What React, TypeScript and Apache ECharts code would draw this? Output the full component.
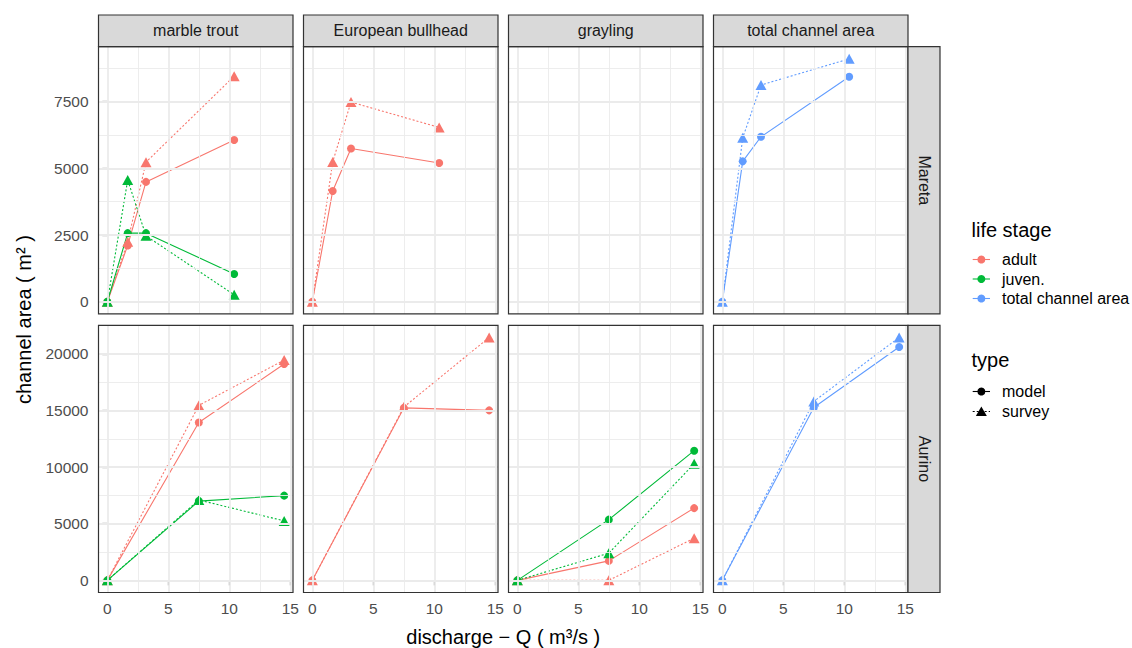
import React, { useEffect, useRef } from "react";
import * as echarts from "echarts";

// ---------- data ----------
const facets = ["marble trout", "European bullhead", "grayling", "total channel area"];
const rivers = ["Mareta", "Aurino"];
const lifeStages = ["adult", "juven.", "total channel area"];
const stageColors = ["#F8766D", "#00BA38", "#619CFF"];
const types = ["model", "survey"];

// discharge (m3/s)
const maretaQ = [0, 1.67, 3.17, 10.4];
const aurinoQ = [0, 7.5, 14.5];

// Mareta channel area (m2)
const maretaTroutAdultModel = [0, 2110, 4490, 6060];
const maretaTroutAdultSurvey = [0, 2250, 5230, 8450];
const maretaTroutJuvModel = [0, 2570, 2570, 1040];
const maretaTroutJuvSurvey = [0, 4560, 2470, 260];
const maretaBullheadAdultModel = [0, 4150, 5740, 5200];
const maretaBullheadAdultSurvey = [0, 5240, 7480, 6530];
const maretaTotalModel = [0, 5260, 6180, 8430];
const maretaTotalSurvey = [0, 6140, 8120, 9100];

// Aurino channel area (m2)
const aurinoTroutAdultModel = [0, 13940, 19100];
const aurinoTroutAdultSurvey = [0, 15450, 19450];
const aurinoTroutJuvModel = [0, 7000, 7480];
const aurinoTroutJuvSurvey = [0, 7100, 5250];
const aurinoBullheadAdultModel = [0, 15230, 15010];
const aurinoBullheadAdultSurvey = [0, 15300, 21450];
const aurinoGraylingAdultModel = [0, 1720, 6380];
const aurinoGraylingAdultSurvey = [0, 0, 3720];
const aurinoGraylingJuvModel = [0, 5360, 11450];
const aurinoGraylingJuvSurvey = [0, 2400, 10300];
const aurinoTotalModel = [0, 15270, 20600];
const aurinoTotalSurvey = [0, 15800, 21450];

// tick values
const xTicks = [0, 5, 10, 15];
const xMinor = [2.5, 7.5, 12.5];
const yTicksTop = [0, 2500, 5000, 7500];
const yMinorTop = [1250, 3750, 6250, 8750];
const yTicksBottom = [0, 5000, 10000, 15000, 20000];
const yMinorBottom = [2500, 7500, 12500, 17500];

// records: river index, facet index, stage index, type index, x, y
const records = [
  [0, 0, 0, 0, maretaQ, maretaTroutAdultModel],
  [0, 0, 0, 1, maretaQ, maretaTroutAdultSurvey],
  [0, 0, 1, 0, maretaQ, maretaTroutJuvModel],
  [0, 0, 1, 1, maretaQ, maretaTroutJuvSurvey],
  [0, 1, 0, 0, maretaQ, maretaBullheadAdultModel],
  [0, 1, 0, 1, maretaQ, maretaBullheadAdultSurvey],
  [0, 3, 2, 0, maretaQ, maretaTotalModel],
  [0, 3, 2, 1, maretaQ, maretaTotalSurvey],
  [1, 0, 0, 0, aurinoQ, aurinoTroutAdultModel],
  [1, 0, 0, 1, aurinoQ, aurinoTroutAdultSurvey],
  [1, 0, 1, 0, aurinoQ, aurinoTroutJuvModel],
  [1, 0, 1, 1, aurinoQ, aurinoTroutJuvSurvey],
  [1, 1, 0, 0, aurinoQ, aurinoBullheadAdultModel],
  [1, 1, 0, 1, aurinoQ, aurinoBullheadAdultSurvey],
  [1, 2, 0, 0, aurinoQ, aurinoGraylingAdultModel],
  [1, 2, 0, 1, aurinoQ, aurinoGraylingAdultSurvey],
  [1, 2, 1, 0, aurinoQ, aurinoGraylingJuvModel],
  [1, 2, 1, 1, aurinoQ, aurinoGraylingJuvSurvey],
  [1, 3, 2, 0, aurinoQ, aurinoTotalModel],
  [1, 3, 2, 1, aurinoQ, aurinoTotalSurvey],
] as any[];

// ---------- layout ----------
const FONT = "'Liberation Sans', Arial, Helvetica, sans-serif";
const PANEL_LEFT = [98.5, 303.5, 508.5, 713.5];
const PANEL_W = 194.5;
const PANEL_TOP = [46.7, 325.3];
const PANEL_H = 267.2;
const STRIP_TOP = 15;
const STRIP_RIGHT_W = 32;
const GRID_COLOR = "#EBEBEB";
const BORDER = "#333333";
const TICK_FS = 15.5;
const SMALL_FS = 16;
const TITLE_FS = 20;

function buildOption() {
  const allX = ([] as number[]).concat(maretaQ, aurinoQ);
  const xMax = Math.max(...allX);
  const xMin = Math.min(...allX);
  const xSpan = xMax - xMin;
  const xRange = [xMin - 0.05 * xSpan, xMax + 0.05 * xSpan];
  const rowMax = [0, 1].map((r) =>
    Math.max(...records.filter((d) => d[0] === r).flatMap((d) => d[5] as number[]))
  );
  const yRanges = rowMax.map((m) => [-0.05 * m, 1.05 * m]);
  const yTicks = [yTicksTop, yTicksBottom];
  const yMinor = [yMinorTop, yMinorBottom];

  const grids: any[] = [];
  const xAxes: any[] = [];
  const yAxes: any[] = [];
  const series: any[] = [];
  const graphics: any[] = [];

  const fmt = (v: number) => String(v);

  for (let r = 0; r < 2; r++) {
    for (let c = 0; c < 4; c++) {
      const p = r * 4 + c;
      grids.push({
        left: PANEL_LEFT[c],
        top: PANEL_TOP[r],
        width: PANEL_W,
        height: PANEL_H,
        show: true,
        backgroundColor: "#FFFFFF",
        borderWidth: 0,
        containLabel: false,
      });
      xAxes.push({
        type: "value",
        gridIndex: p,
        min: xRange[0],
        max: xRange[1],
        axisLine: { show: false },
        splitLine: { show: false },
        axisTick: {
          show: r === 1,
          customValues: xTicks,
          length: 5,
          lineStyle: { color: BORDER, width: 1.2 },
        },
        axisLabel: {
          show: r === 1,
          customValues: xTicks,
          formatter: fmt,
          color: "#4D4D4D",
          fontSize: TICK_FS,
          fontFamily: FONT,
          margin: 8,
        },
      });
      yAxes.push({
        type: "value",
        gridIndex: p,
        min: yRanges[r][0],
        max: yRanges[r][1],
        axisLine: { show: false },
        splitLine: { show: false },
        axisTick: {
          show: c === 0,
          customValues: yTicks[r],
          length: 5,
          lineStyle: { color: BORDER, width: 1.2 },
        },
        axisLabel: {
          show: c === 0,
          customValues: yTicks[r],
          formatter: fmt,
          color: "#4D4D4D",
          fontSize: TICK_FS,
          fontFamily: FONT,
          margin: 10,
        },
      });
      // grid lines through markLine on a helper series
      const ml: any[] = [];
      xMinor.forEach((v) => ml.push({ xAxis: v, lineStyle: { width: 0.9, color: GRID_COLOR, type: "solid" } }));
      yMinor[r].forEach((v) => ml.push({ yAxis: v, lineStyle: { width: 0.9, color: GRID_COLOR, type: "solid" } }));
      xTicks.forEach((v) => ml.push({ xAxis: v, lineStyle: { width: 1.8, color: GRID_COLOR, type: "solid" } }));
      yTicks[r].forEach((v) => ml.push({ yAxis: v, lineStyle: { width: 1.8, color: GRID_COLOR, type: "solid" } }));
      series.push({
        type: "line",
        name: "grid" + p,
        xAxisIndex: p,
        yAxisIndex: p,
        data: [],
        silent: true,
        z: 1,
        markLine: {
          silent: true,
          animation: false,
          symbol: ["none", "none"],
          label: { show: false },
          emphasis: { disabled: true },
          data: ml,
        },
      });

      // panel border
      graphics.push({
        type: "rect",
        z: 100,
        silent: true,
        shape: { x: PANEL_LEFT[c], y: PANEL_TOP[r], width: PANEL_W, height: PANEL_H },
        style: { fill: "none", stroke: BORDER, lineWidth: 1.2 },
      });
    }
  }

  // data series
  records.forEach((d) => {
    const [r, c, s, t, xs, ys] = d;
    const p = r * 4 + c;
    series.push({
      type: "line",
      name: `${rivers[r]} ${facets[c]} ${lifeStages[s]} ${types[t]}`,
      xAxisIndex: p,
      yAxisIndex: p,
      data: (xs as number[]).map((x, i) => [x, ys[i]]),
      symbol: t === 0 ? "circle" : "triangle",
      symbolSize: t === 0 ? 8 : [11, 10],
      showSymbol: true,
      showAllSymbol: true,
      itemStyle: { color: stageColors[s] },
      lineStyle: { color: stageColors[s], width: 1.1, type: t === 0 ? "solid" : [2, 2] },
      z: 3,
      silent: true,
      emphasis: { disabled: true },
    });
  });

  // top strips
  facets.forEach((f, c) => {
    graphics.push({
      type: "rect",
      z: 101,
      silent: true,
      shape: { x: PANEL_LEFT[c], y: STRIP_TOP, width: PANEL_W, height: PANEL_TOP[0] - STRIP_TOP },
      style: { fill: "#D9D9D9", stroke: BORDER, lineWidth: 1.2 },
    });
    graphics.push({
      type: "text",
      z: 102,
      silent: true,
      x: PANEL_LEFT[c] + PANEL_W / 2,
      y: (STRIP_TOP + PANEL_TOP[0]) / 2,
      style: {
        text: f,
        fontSize: SMALL_FS,
        fontFamily: FONT,
        fill: "#1A1A1A",
        align: "center",
        verticalAlign: "middle",
      },
    });
  });
  // right strips
  const stripX = PANEL_LEFT[3] + PANEL_W;
  rivers.forEach((rv, r) => {
    graphics.push({
      type: "rect",
      z: 101,
      silent: true,
      shape: { x: stripX, y: PANEL_TOP[r], width: STRIP_RIGHT_W, height: PANEL_H },
      style: { fill: "#D9D9D9", stroke: BORDER, lineWidth: 1.2 },
    });
    graphics.push({
      type: "text",
      z: 102,
      silent: true,
      x: stripX + STRIP_RIGHT_W / 2,
      y: PANEL_TOP[r] + PANEL_H / 2,
      rotation: -Math.PI / 2,
      style: {
        text: rv,
        fontSize: SMALL_FS,
        fontFamily: FONT,
        fill: "#1A1A1A",
        align: "center",
        verticalAlign: "middle",
      },
    });
  });

  // axis titles
  graphics.push({
    type: "text",
    z: 102,
    silent: true,
    x: (PANEL_LEFT[0] + PANEL_LEFT[3] + PANEL_W) / 2,
    y: 637,
    style: {
      text: "discharge − Q ( m³/s )",
      fontSize: TITLE_FS,
      fontFamily: FONT,
      fill: "#000000",
      align: "center",
      verticalAlign: "middle",
    },
  });
  graphics.push({
    type: "text",
    z: 102,
    silent: true,
    x: 24,
    y: (PANEL_TOP[0] + PANEL_TOP[1] + PANEL_H) / 2,
    rotation: Math.PI / 2,
    style: {
      text: "channel area ( m² )",
      fontSize: TITLE_FS,
      fontFamily: FONT,
      fill: "#000000",
      align: "center",
      verticalAlign: "middle",
    },
  });

  // legends
  const keyX1 = 972.7;
  const keyX2 = 990;
  const keyCx = (keyX1 + keyX2) / 2;
  const textX = 1002;
  graphics.push({
    type: "text",
    z: 102,
    silent: true,
    x: 971.5,
    y: 230,
    style: { text: "life stage", fontSize: TITLE_FS, fontFamily: FONT, fill: "#000", align: "left", verticalAlign: "middle" },
  });
  lifeStages.forEach((s, i) => {
    const y = 259.5 + i * 19.5;
    graphics.push({
      type: "line",
      z: 102,
      silent: true,
      shape: { x1: keyX1, y1: y, x2: keyX2, y2: y },
      style: { stroke: stageColors[i], lineWidth: 1.1 },
    });
    graphics.push({
      type: "circle",
      z: 103,
      silent: true,
      shape: { cx: keyCx, cy: y, r: 4 },
      style: { fill: stageColors[i] },
    });
    graphics.push({
      type: "text",
      z: 102,
      silent: true,
      x: textX,
      y: y,
      style: { text: s, fontSize: SMALL_FS, fontFamily: FONT, fill: "#000", align: "left", verticalAlign: "middle" },
    });
  });
  graphics.push({
    type: "text",
    z: 102,
    silent: true,
    x: 971.5,
    y: 360,
    style: { text: "type", fontSize: TITLE_FS, fontFamily: FONT, fill: "#000", align: "left", verticalAlign: "middle" },
  });
  types.forEach((t, i) => {
    const y = 391.5 + i * 20;
    graphics.push({
      type: "line",
      z: 102,
      silent: true,
      shape: { x1: keyX1, y1: y, x2: keyX2, y2: y },
      style: { stroke: "#000", lineWidth: 1.1, lineDash: i === 0 ? null : [2, 2] },
    });
    if (i === 0) {
      graphics.push({
        type: "circle",
        z: 103,
        silent: true,
        shape: { cx: keyCx, cy: y, r: 4 },
        style: { fill: "#000" },
      });
    } else {
      graphics.push({
        type: "polygon",
        z: 103,
        silent: true,
        shape: { points: [[keyCx, y - 5], [keyCx - 5.5, y + 4.5], [keyCx + 5.5, y + 4.5]] },
        style: { fill: "#000" },
      });
    }
    graphics.push({
      type: "text",
      z: 102,
      silent: true,
      x: textX,
      y: y,
      style: { text: t, fontSize: SMALL_FS, fontFamily: FONT, fill: "#000", align: "left", verticalAlign: "middle" },
    });
  });

  return {
    animation: false,
    backgroundColor: "#FFFFFF",
    grid: grids,
    xAxis: xAxes,
    yAxis: yAxes,
    series,
    graphic: { elements: graphics },
  };
}

export default function App() {
  const ref = useRef<HTMLDivElement>(null);
  useEffect(() => {
    document.body.style.margin = "0";
    if (!ref.current) return;
    const chart = echarts.init(ref.current, null, { renderer: "svg" });
    chart.setOption(buildOption() as any);
    return () => {
      chart.dispose();
    };
  }, []);
  return <div ref={ref} style={{ width: 1132, height: 648 }} />;
}
